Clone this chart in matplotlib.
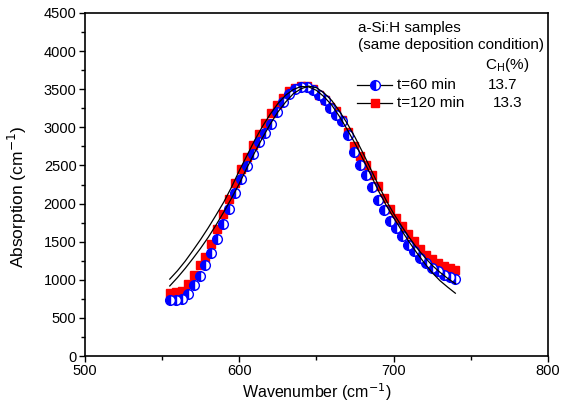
import matplotlib
matplotlib.use("Agg")
import matplotlib.pyplot as plt
from matplotlib.ticker import MultipleLocator

plt.rcParams['font.family'] = ['Liberation Sans', 'DejaVu Sans']

wavenumber = [555.0, 558.9, 562.7, 566.6, 570.4, 574.3, 578.1, 582.0, 585.9, 589.7,
              593.6, 597.4, 601.3, 605.1, 609.0, 612.9, 616.7, 620.6, 624.4, 628.3,
              632.1, 636.0, 639.9, 643.7, 647.6, 651.4, 655.3, 659.1, 663.0, 666.9,
              670.7, 674.6, 678.4, 682.3, 686.1, 690.0, 693.9, 697.7, 701.6, 705.4,
              709.3, 713.1, 717.0, 720.9, 724.7, 728.6, 732.4, 736.3, 740.1]

abs_60 = [730, 735, 750, 810, 930, 1055, 1195, 1355, 1530, 1730,
          1930, 2135, 2320, 2490, 2650, 2810, 2930, 3050, 3200, 3330,
          3440, 3505, 3530, 3530, 3495, 3430, 3360, 3250, 3160, 3080,
          2900, 2680, 2500, 2380, 2220, 2050, 1910, 1770, 1680, 1580,
          1460, 1380, 1290, 1220, 1160, 1110, 1070, 1035, 1010]

abs_120 = [822, 835, 860, 940, 1070, 1190, 1300, 1470, 1665, 1870,
           2060, 2265, 2455, 2615, 2770, 2910, 3060, 3190, 3290, 3385,
           3470, 3520, 3545, 3545, 3500, 3430, 3360, 3260, 3210, 3090,
           2940, 2760, 2625, 2500, 2370, 2225, 2075, 1935, 1815, 1710,
           1605, 1505, 1400, 1330, 1275, 1220, 1180, 1150, 1130]

fit_x = [555, 560, 565, 570, 575, 580, 585, 590, 595, 600, 605, 610, 615, 620,
         625, 630, 635, 640, 645, 650, 655, 660, 665, 670, 675, 680, 685, 690,
         695, 700, 705, 710, 715, 720, 725, 730, 735, 740]

fit_a = [1010, 1120, 1245, 1385, 1530, 1685, 1850, 2020, 2215, 2430, 2630, 2830,
         3010, 3170, 3310, 3420, 3495, 3535, 3530, 3485, 3400, 3290, 3140, 2970,
         2790, 2590, 2385, 2175, 1985, 1815, 1655, 1500, 1355, 1220, 1095, 990,
         905, 825]

fit_b = [920, 1030, 1150, 1280, 1415, 1560, 1720, 1890, 2070, 2260, 2470, 2670,
         2860, 3040, 3200, 3330, 3440, 3505, 3540, 3520, 3450, 3350, 3210, 3050,
         2870, 2670, 2460, 2250, 2050, 1870, 1710, 1560, 1420, 1300, 1190, 1100,
         1020, 950]

series_labels = ['t=60 min', 't=120 min']
ch_values = ['13.7', '13.3']

FS = 11
fig = plt.figure(figsize=(5.62, 4.17), dpi=100)
ax = fig.add_axes([0.151, 0.146, 0.824, 0.823])

blue_style = dict(marker='o', markersize=7, fillstyle='left',
                  markerfacecolor='#0000ff', markerfacecoloralt='white',
                  markeredgecolor='#0000ff', markeredgewidth=1.0)
red_style = dict(marker='s', markersize=6.3, markerfacecolor='#ff0000',
                 markeredgecolor='#ff0000')

ax.plot(wavenumber, abs_120, linestyle='none', zorder=2, **red_style)
ax.plot(wavenumber, abs_60, linestyle='none', zorder=3, **blue_style)
ax.plot(fit_x, fit_a, color='black', lw=0.9, zorder=4)
ax.plot(fit_x, fit_b, color='black', lw=0.9, zorder=4)

ax.set_xlim(500, 800)
ax.set_ylim(0, 4500)
ax.xaxis.set_major_locator(MultipleLocator(100))
ax.xaxis.set_minor_locator(MultipleLocator(50))
ax.yaxis.set_major_locator(MultipleLocator(500))
ax.yaxis.set_minor_locator(MultipleLocator(250))
ax.tick_params(which='major', direction='out', length=4, width=1,
               labelsize=10.5, colors='black', pad=2)
ax.tick_params(which='minor', direction='out', length=3, width=1)
for s in ax.spines.values():
    s.set_linewidth(1.2)

ax.set_xlabel('Wavenumber (cm$^{-1}$)', fontsize=11.5, labelpad=2)
ax.set_ylabel('Absorption (cm$^{-1}$)', fontsize=12.5)
ax.yaxis.set_label_coords(-0.121, 0.464)

ax.text(0.590, 0.956, 'a-Si:H samples', transform=ax.transAxes,
        fontsize=FS, va='center', ha='left')
ax.text(0.590, 0.907, '(same deposition condition)', transform=ax.transAxes,
        fontsize=FS, va='center', ha='left')
ax.text(0.959, 0.848, 'C$_\\mathrm{H}$(%)', transform=ax.transAxes,
        fontsize=FS, va='center', ha='right')

# legend entries
ys = [0.790, 0.738]
styles = [blue_style, red_style]
for y, st, lab, ch, cx in zip(ys, styles, series_labels, ch_values, [0.870, 0.881]):
    ax.plot([0.588, 0.664], [y, y], color='black', lw=0.9,
            transform=ax.transAxes, clip_on=False, zorder=5)
    ax.plot([0.626], [y], linestyle='none', transform=ax.transAxes,
            clip_on=False, zorder=6, **st)
    ax.text(0.675, y, lab, transform=ax.transAxes, fontsize=FS,
            va='center', ha='left')
    ax.text(cx, y, ch, transform=ax.transAxes, fontsize=FS,
            va='center', ha='left')

fig.savefig('out.png', dpi=100)
